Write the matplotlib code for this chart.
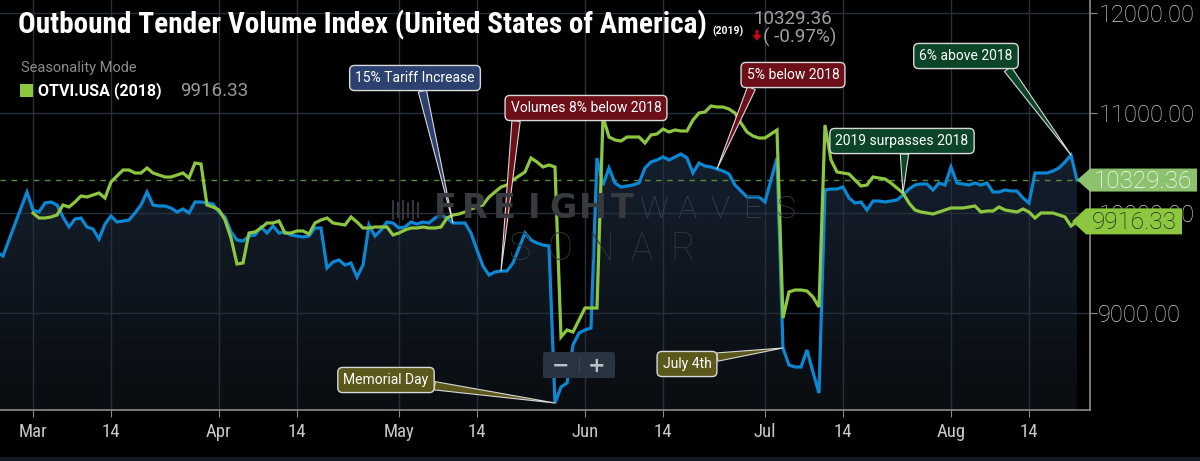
import numpy as np
import pandas as pd
import matplotlib
matplotlib.use('Agg')
import matplotlib.pyplot as plt
import matplotlib.dates as mdates
from matplotlib import font_manager
from matplotlib.patches import Polygon, FancyBboxPatch, Rectangle
from matplotlib.colors import LinearSegmentedColormap

# ---- dados (valores diários) ----
inicio_2019 = '2019-02-23'
otvi_2019 = [
    9610, 9570, 9730, 9890, 10050, 10210, 10030, 10010, 10100, 10110,
    10080, 9960, 9860, 9940, 9950, 9860, 9840, 9740, 9890, 9970,
    9910, 9920, 9930, 10000, 10080, 10210, 10080, 10070, 10070, 10050,
    10010, 10040, 10000, 10110, 10110, 10100, 10090, 10010, 9960, 9810,
    9730, 9720, 9770, 9780, 9860, 9800, 9870, 9800, 9810, 9780,
    9770, 9760, 9770, 9850, 9850, 9450, 9510, 9530, 9480, 9500,
    9360, 9480, 9880, 9770, 9830, 9910, 9900, 9850, 9860, 9910,
    9890, 9910, 9900, 9950, 9980, 9950, 9900, 9900, 9900, 9800,
    9630, 9470, 9380, 9410, 9420, 9420, 9500, 9650, 9800, 9730,
    9700, 9680, 9670, 8100, 8260, 8300, 8680, 8800, 8830, 8850,
    10550, 10280, 10450, 10300, 10260, 10270, 10280, 10300, 10450, 10510,
    10530, 10560, 10530, 10560, 10590, 10550, 10400, 10500, 10470, 10460,
    10440, 10420, 10390, 10280, 10220, 10160, 10160, 10160, 10110, 10330,
    10550, 8650, 8480, 8460, 8460, 8630, 8410, 8200, 10230, 10240,
    10240, 10260, 10150, 10100, 10110, 10030, 10120, 10120, 10110, 10120,
    10130, 10180, 10240, 10280, 10290, 10290, 10230, 10300, 10280, 10460,
    10300, 10290, 10280, 10300, 10280, 10300, 10210, 10210, 10230, 10220,
    10220, 10150, 10100, 10400, 10400, 10400, 10420, 10450, 10510, 10580,
    10329.36,
]
inicio_2018 = '2019-03-01'  # modo sazonal: 2018 no calendário de 2019
otvi_2018 = [
    10000, 9950, 9950, 9960, 9980, 10080, 10060, 10110, 10170, 10160,
    10180, 10200, 10150, 10310, 10370, 10430, 10430, 10400, 10400, 10450,
    10400, 10380, 10360, 10360, 10380, 10400, 10350, 10500, 10490, 10080,
    10060, 10030, 9930, 9750, 9490, 9500, 9800, 9810, 9850, 9900,
    9900, 9920, 9800, 9800, 9820, 9820, 9790, 9900, 9930, 9950,
    9900, 9890, 9880, 9960, 9910, 9850, 9850, 9860, 9860, 9860,
    9780, 9800, 9830, 9850, 9850, 9860, 9850, 9850, 9860, 9950,
    9980, 9990, 10010, 10040, 10060, 10080, 10160, 10210, 10260, 10280,
    10330, 10370, 10410, 10550, 10510, 10460, 10480, 10460, 8760, 8830,
    8810, 8930, 9050, 9050, 9050, 10960, 10760, 10730, 10720, 10760,
    10760, 10760, 10700, 10780, 10790, 10840, 10810, 10830, 10820, 10820,
    10930, 11000, 11010, 11070, 11060, 11060, 11040, 11000, 10900, 10810,
    10770, 10750, 10750, 10790, 10830, 8950, 9210, 9230, 9230, 9220,
    9160, 9060, 10880, 10530, 10410, 10400, 10390, 10330, 10270, 10280,
    10360, 10350, 10340, 10300, 10250, 10200, 10100, 10030, 10010, 10000,
    9990, 10010, 10030, 10050, 10050, 10050, 10060, 10070, 10010, 10020,
    10020, 10060, 10030, 10020, 10010, 10040, 10010, 9950, 10000, 10000,
    10000, 9980, 9960, 9870, 9916.33,
]
variacao = -0.97

tick_datas = ['2019-03-01', '2019-03-14', '2019-04-01', '2019-04-14', '2019-05-01', '2019-05-14',
              '2019-06-01', '2019-06-14', '2019-07-01', '2019-07-14', '2019-08-01', '2019-08-14']
tick_rotulos = ['Mar', '14', 'Apr', '14', 'May', '14', 'Jun', '14', 'Jul', '14', 'Aug', '14']
y_ticks = [9000, 10000, 11000, 12000]

notas_texto = ['15% Tariff Increase', 'Volumes 8% below 2018', '5% below 2018', 'Memorial Day',
               'July 4th', '2019 surpasses 2018', '6% above 2018']
notas_data = ['2019-05-10', '2019-05-18', '2019-06-23', '2019-05-27',
              '2019-07-04', '2019-07-24', '2019-08-21']
notas_serie = ['2019', '2019', '2019', '2019', '2019', '2018', '2019']

# ---- estilo / layout ----
W, H = 1200, 461
AZUL = '#0b87d4'
VERDE = '#8dc63f'
notas_centro = [(415, 78), (586, 108), (793, 75), (386, 380), (687, 364), (902, 141), (966, 56)]
notas_cor = ['#2d4170', '#6c0f18', '#6c0f18', '#5c571b', '#5c571b', '#0b4426', '#0b4426']
notas_base = [(0.55, 0), (0.04, 0), (0.08, 0), (1, 0.15), (0.92, 0.9), (0.52, 0), (0.9, 0)]

lista_fontes = font_manager.fontManager.ttflist
nomes = {f.name for f in lista_fontes}
FONTE = 'Roboto'
NARROW, ESTICAR = 'Roboto', 'normal'
for nome in ['Roboto Condensed', 'Liberation Sans Narrow', 'Open Sans Condensed']:
    if nome in nomes:
        NARROW = nome
        break
else:
    for f in lista_fontes:
        if str(f.stretch) in ('condensed', 'semi-condensed'):
            NARROW, ESTICAR = f.name, 'condensed'
            break


def px(x, y):
    return (x / W, 1 - y / H)


datas_2019 = pd.date_range(inicio_2019, periods=len(otvi_2019), freq='D')
datas_2018 = pd.date_range(inicio_2018, periods=len(otvi_2018), freq='D')
serie_2019 = pd.Series(otvi_2019, index=datas_2019)
serie_2018 = pd.Series(otvi_2018, index=datas_2018)

Y0, Y1 = 8030, 12130
base = pd.Timestamp('2019-02-28')
x0 = base - pd.Timedelta(hours=4.5 * 24)
x1 = base + pd.Timedelta(hours=177.17 * 24)

fig = plt.figure(figsize=(12, 4.61), dpi=100, facecolor='black')
ax = fig.add_axes([0, 51 / H, 1090 / W, 410 / H], facecolor='black')

# preenchimento em gradiente sob a linha de 2019
area = ax.fill_between(datas_2019, otvi_2019, Y0, facecolor='none', edgecolor='none')
cmap = LinearSegmentedColormap.from_list('fundo', ['#0a0d11', '#1a2a3e'])
xs = mdates.date2num(datas_2019)
grad = np.linspace(1, 0, 256).reshape(-1, 1)
img = ax.imshow(grad, cmap=cmap, aspect='auto', extent=[xs[0], xs[-1], Y0, Y1],
                origin='upper', zorder=1, interpolation='bilinear')
img.set_clip_path(area.get_paths()[0], transform=ax.transData)

# grade
for d in tick_datas:
    ax.axvline(pd.Timestamp(d), color='#25303c', lw=1, zorder=1.5)
for v in y_ticks:
    ax.axhline(v, color='#25303c', lw=1, zorder=1.5)

ax.axhline(otvi_2019[-1], color='#5b8a3a', lw=1, ls=(0, (4, 4)), zorder=2)

# marca d'água (letras espaçadas)
for i, letra in enumerate('FREIGHT'):
    fig.text(*px(445 + 29.6 * i, 209), letra, fontsize=24, fontweight='bold',
             family='DejaVu Sans', color='#373b40', va='center', ha='center', zorder=0.5)
for i, letra in enumerate('WAVES'):
    fig.text(*px(654 + 33 * i, 209), letra, fontsize=23, fontweight='light', family=FONTE,
             color='#3a424b', va='center', ha='center', zorder=0.5)
for i, letra in enumerate('SONAR'):
    fig.text(*px(519 + 41 * i, 249), letra, fontsize=27, fontweight='light', family=FONTE,
             color='#2d343b', va='center', ha='center', zorder=0.5)
for i in range(6):
    fig.patches.append(Rectangle(px(392 + 5 * i, 220 - (i % 2) * 2), 2 / W, (20 - (i % 2) * 4) / H,
                                 fc='#33373c', ec='none', transform=fig.transFigure,
                                 zorder=0.5))

ax.plot(datas_2019, otvi_2019, color=AZUL, lw=2.3, zorder=3, solid_joinstyle='miter')
ax.plot(datas_2018, otvi_2018, color=VERDE, lw=2.3, zorder=3.1, solid_joinstyle='miter')

ax.set_xlim(x0, x1)
ax.set_ylim(Y0, Y1)

# eixos
for lado in ['top', 'left']:
    ax.spines[lado].set_visible(False)
for lado in ['bottom', 'right']:
    ax.spines[lado].set_color('#8c8c8c')
    ax.spines[lado].set_linewidth(1.2)
    ax.spines[lado].set_zorder(4)

ax.set_xticks([pd.Timestamp(d) for d in tick_datas])
ax.set_xticklabels(tick_rotulos, family=NARROW, stretch=ESTICAR,
                   fontsize=13.5 if NARROW != 'Roboto' else 12, color='#c8c8c8')
ax.tick_params(axis='x', direction='out', length=5, color='#8c8c8c', pad=4)
ax.yaxis.tick_right()
ax.set_yticks(y_ticks)
ax.set_yticklabels([f'{v:.2f}' for v in y_ticks], family=FONTE, fontweight='light',
                   fontsize=17, color='#d0d0d0')
ax.tick_params(axis='y', direction='out', length=5, color='#8c8c8c', pad=1)

# anotações
for texto, data, serie, centro, cor, rel in zip(notas_texto, notas_data, notas_serie,
                                                notas_centro, notas_cor, notas_base):
    s = serie_2019 if serie == '2019' else serie_2018
    alvo = (pd.Timestamp(data), s[pd.Timestamp(data)])
    ax.annotate(texto, xy=alvo, xytext=px(*centro), textcoords='figure fraction',
                ha='center', va='center', fontsize=10, family=FONTE, color='white',
                annotation_clip=False, zorder=6,
                bbox=dict(boxstyle='round,pad=0.4,rounding_size=0.35', fc=cor,
                          ec='#d8d8d8', lw=1),
                arrowprops=dict(arrowstyle='wedge,tail_width=0.6,shrink_factor=0.5',
                                fc=cor, ec='#d8d8d8', lw=0.8, shrinkA=0, shrinkB=0,
                                relpos=rel, connectionstyle='arc3,rad=0'))

# título e legenda
titulo = fig.text(*px(18, 25), 'Outbound Tender Volume Index (United States of America)',
                  fontsize=19.5, fontweight='bold', family=NARROW, stretch=ESTICAR,
                  color='white', va='center')
fig.canvas.draw()
largura = titulo.get_window_extent().width
titulo.set_fontsize(19.5 * 687 / largura)


def caixa_valor(valor, x_tip, x_rect, x_dir, meia, fc, tc, x_txt):
    yd = ax.transData.transform((mdates.date2num(datas_2019[-1]), valor))[1]
    yc = H - yd
    pts = [px(x_tip, yc), px(x_rect, yc - meia), px(x_dir, yc - meia),
           px(x_dir, yc + meia), px(x_rect, yc + meia)]
    fig.patches.append(Polygon(pts, closed=True, fc=fc, ec='none',
                               transform=fig.transFigure, zorder=5))
    fig.text(*px(x_txt, yc + 1), f'{valor:.2f}', fontsize=17.5, family=FONTE,
             fontweight='light', color=tc, va='center', ha='left', zorder=6)


caixa_valor(otvi_2019[-1], 1077, 1090, 1197, 11.5, '#8cc26e', 'white', 1094)
caixa_valor(otvi_2018[-1], 1072, 1086, 1182, 13, VERDE, '#1b2810', 1092)

fig.text(*px(712, 31), '(2019)', fontsize=7.5, fontweight='bold', family=FONTE,
         color='white', va='center')
fig.text(*px(753, 19), f'{otvi_2019[-1]:.2f}', fontsize=13.5, family=FONTE,
         color='#a0a0a0', va='center')
fig.text(*px(763, 37), f'( {variacao:.2f}%)', fontsize=13.5, family=FONTE,
         color='#a0a0a0', va='center')
seta = [(755.5, 30), (758.5, 30), (758.5, 35), (761.5, 35), (757, 41), (752.5, 35), (755.5, 35)]
fig.patches.append(Polygon([px(x, y) for x, y in seta], closed=True, fc='#d0021b', ec='none',
                           transform=fig.transFigure))

fig.text(*px(21, 68), 'Seasonality Mode', fontsize=10.5, family=FONTE, color='#8a8a8a',
         va='center')
fig.patches.append(Rectangle(px(20, 97), 13 / W, 13 / H, fc=VERDE, ec='none',
                             transform=fig.transFigure))
fig.text(*px(38, 91), 'OTVI.USA (2018)', fontsize=11.5, fontweight='bold', family=FONTE,
         color='white', va='center')
fig.text(*px(180, 91), f'{otvi_2018[-1]:.2f}', fontsize=13.5, family=FONTE,
         color='#9a9a9a', va='center')

# botões de zoom
fig.patches.append(FancyBboxPatch(px(543, 378), 72 / W, 26 / H,
                                  boxstyle='round,pad=0,rounding_size=0.003',
                                  fc='#293440', ec='none', transform=fig.transFigure,
                                  zorder=5))
fig.text(*px(561, 366), '\u2212', fontsize=15, fontweight='bold', family='DejaVu Sans',
         color='#b8c0c8', va='center', ha='center', zorder=6)
fig.text(*px(597, 366), '+', fontsize=15, fontweight='bold', family='DejaVu Sans',
         color='#b8c0c8', va='center', ha='center', zorder=6)
fig.patches.append(Rectangle(px(579, 373), 1 / W, 16 / H, fc='#3a4652', ec='none',
                             transform=fig.transFigure, zorder=6))

fig.patches.append(Rectangle((0, 0), 1, 4 / H, fc='#111922', ec='none',
                             transform=fig.transFigure))

fig.savefig('out.png', dpi=100, facecolor='black')
